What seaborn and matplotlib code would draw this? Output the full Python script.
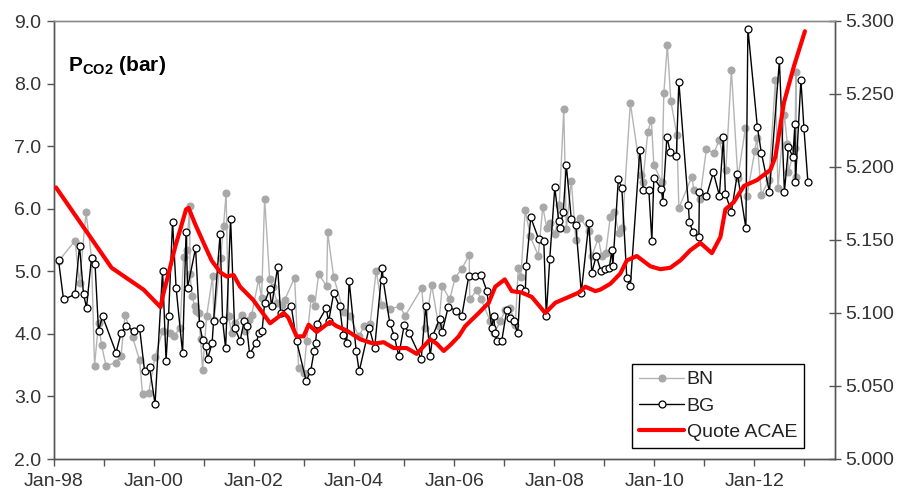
import numpy as np
import pandas as pd
import matplotlib
matplotlib.use("Agg")
import matplotlib.pyplot as plt
import matplotlib.dates as mdates
from matplotlib.ticker import FuncFormatter, FormatStrFormatter
import seaborn as sns

# ---------------- data ----------------
bn_years = [1998.09, 1998.42, 1998.51, 1998.64, 1998.75, 1998.81, 1998.89, 1998.95, 1999.04, 1999.24,
            1999.34, 1999.42, 1999.57, 1999.71, 1999.77, 1999.89, 2000.02, 2000.17, 2000.32, 2000.39,
            2000.52, 2000.59, 2000.65, 2000.71, 2000.72, 2000.76, 2000.81, 2000.84, 2000.89, 2000.93,
            2000.97, 2001.05, 2001.17, 2001.20, 2001.33, 2001.39, 2001.44, 2001.49, 2001.55, 2001.62,
            2001.75, 2001.82, 2001.89, 2001.95, 2002.09, 2002.15, 2002.21, 2002.31, 2002.37, 2002.46,
            2002.55, 2002.61, 2002.81, 2002.89, 2002.99, 2003.05, 2003.14, 2003.21, 2003.29, 2003.45,
            2003.47, 2003.59, 2003.79, 2003.91, 2004.09, 2004.20, 2004.32, 2004.44, 2004.55, 2004.72,
            2004.91, 2005.02, 2005.35, 2005.42, 2005.55, 2005.69, 2005.76, 2005.91, 2006.02, 2006.15,
            2006.30, 2006.31, 2006.45, 2006.54, 2006.72, 2006.80, 2006.92, 2007.02, 2007.12, 2007.22,
            2007.28, 2007.33, 2007.42, 2007.52, 2007.68, 2007.77, 2007.85, 2007.91, 2008.02, 2008.10,
            2008.19, 2008.24, 2008.34, 2008.43, 2008.52, 2008.69, 2008.75, 2008.88, 2008.95, 2009.03,
            2009.12, 2009.20, 2009.29, 2009.36, 2009.52, 2009.73, 2009.77, 2009.87, 2009.94, 2009.99,
            2010.15, 2010.19, 2010.26, 2010.33, 2010.45, 2010.49, 2010.75, 2010.79, 2010.91, 2011.04,
            2011.19, 2011.30, 2011.43, 2011.54, 2011.67, 2011.82, 2011.85, 2012.01, 2012.05, 2012.14,
            2012.29, 2012.42, 2012.47, 2012.60, 2012.66, 2012.68, 2012.81, 2012.83, 2012.84]
bn_values = [5.16, 5.49, 4.81, 5.94, 5.22, 3.49, 4.17, 3.82, 3.49, 3.54,
             3.65, 4.30, 3.95, 3.58, 3.04, 3.05, 3.63, 4.05, 4.01, 3.96,
             4.09, 5.23, 5.34, 6.04, 4.95, 4.60, 4.45, 4.36, 4.33, 3.92,
             3.42, 4.28, 4.92, 4.22, 5.22, 5.73, 6.25, 4.28, 4.01, 4.17,
             4.30, 4.04, 4.22, 4.30, 4.87, 4.57, 6.16, 4.88, 4.75, 4.50,
             4.46, 4.54, 4.90, 3.45, 3.37, 3.88, 4.58, 4.44, 4.96, 4.76,
             5.62, 4.91, 4.35, 4.29, 3.96, 4.12, 4.16, 5.01, 4.46, 4.40,
             4.44, 4.29, 4.73, 4.10, 4.78, 4.12, 4.77, 4.55, 4.90, 5.04,
             5.26, 4.55, 4.70, 4.55, 4.20, 4.01, 4.20, 4.38, 4.41, 4.14,
             5.05, 4.91, 5.98, 5.56, 5.25, 6.03, 5.69, 5.77, 5.59, 6.06,
             7.59, 5.67, 6.45, 5.50, 5.85, 5.65, 5.24, 5.53, 5.24, 5.30,
             5.87, 5.95, 5.61, 5.69, 7.69, 6.54, 6.43, 7.23, 7.42, 6.70,
             6.43, 7.85, 8.62, 7.72, 7.18, 6.01, 6.51, 6.30, 6.16, 6.95,
             6.89, 7.10, 6.62, 8.22, 6.49, 7.29, 6.20, 6.93, 7.13, 6.22,
             6.46, 8.05, 6.33, 7.50, 7.03, 6.59, 6.97, 8.18, 6.50]

bg_years = [1998.09, 1998.19, 1998.42, 1998.51, 1998.59, 1998.65, 1998.75, 1998.82, 1998.89, 1998.97,
            1999.24, 1999.34, 1999.44, 1999.59, 1999.71, 1999.81, 1999.91, 2000.02, 2000.17, 2000.24,
            2000.29, 2000.37, 2000.44, 2000.57, 2000.64, 2000.67, 2000.83, 2000.91, 2000.97, 2001.03,
            2001.07, 2001.16, 2001.19, 2001.32, 2001.37, 2001.43, 2001.53, 2001.61, 2001.72, 2001.80,
            2001.85, 2001.91, 2002.04, 2002.10, 2002.16, 2002.21, 2002.31, 2002.35, 2002.47, 2002.53,
            2002.74, 2002.85, 2003.04, 2003.13, 2003.20, 2003.23, 2003.26, 2003.44, 2003.49, 2003.59,
            2003.71, 2003.78, 2003.85, 2003.90, 2004.04, 2004.10, 2004.30, 2004.41, 2004.56, 2004.58,
            2004.71, 2004.80, 2004.89, 2005.00, 2005.10, 2005.34, 2005.43, 2005.52, 2005.57, 2005.71,
            2005.76, 2005.88, 2006.04, 2006.15, 2006.29, 2006.42, 2006.54, 2006.65, 2006.75, 2006.79,
            2006.82, 2006.85, 2006.95, 2007.05, 2007.12, 2007.19, 2007.27, 2007.32, 2007.42, 2007.44,
            2007.53, 2007.69, 2007.79, 2007.84, 2007.91, 2008.01, 2008.09, 2008.11, 2008.18, 2008.24,
            2008.34, 2008.43, 2008.54, 2008.69, 2008.75, 2008.84, 2008.93, 2009.01, 2009.10, 2009.15,
            2009.17, 2009.28, 2009.35, 2009.45, 2009.52, 2009.71, 2009.78, 2009.89, 2009.95, 2009.99,
            2010.14, 2010.17, 2010.25, 2010.32, 2010.44, 2010.49, 2010.68, 2010.70, 2010.77, 2010.89,
            2010.90, 2011.04, 2011.18, 2011.30, 2011.38, 2011.42, 2011.54, 2011.66, 2011.83, 2011.87,
            2012.06, 2012.14, 2012.30, 2012.50, 2012.60, 2012.68, 2012.77, 2012.81, 2012.82, 2012.93,
            2012.99, 2013.07]
bg_values = [5.18, 4.55, 4.63, 5.41, 4.63, 4.42, 5.22, 5.12, 4.05, 4.28,
             3.70, 4.01, 4.13, 4.05, 4.10, 3.41, 3.47, 2.88, 5.01, 3.57,
             4.28, 5.79, 4.74, 3.69, 5.63, 4.74, 5.37, 4.16, 3.90, 3.81,
             3.60, 3.85, 4.21, 5.60, 4.22, 3.77, 5.84, 4.10, 3.89, 4.20,
             4.12, 3.68, 3.85, 4.02, 4.05, 4.50, 4.71, 4.44, 5.07, 4.33,
             4.45, 3.88, 3.25, 3.40, 3.73, 3.86, 4.16, 4.41, 4.20, 4.65,
             4.44, 3.98, 3.86, 4.85, 3.73, 3.40, 4.10, 3.78, 5.05, 4.86,
             4.18, 3.97, 3.65, 4.14, 4.01, 3.60, 4.44, 3.65, 3.97, 4.24,
             4.03, 4.43, 4.37, 4.28, 4.92, 4.92, 4.94, 4.69, 4.10, 4.28,
             4.01, 3.89, 3.89, 4.38, 4.25, 4.20, 4.01, 4.73, 4.68, 5.09,
             5.86, 5.51, 5.49, 4.29, 5.20, 6.34, 5.80, 5.69, 5.95, 6.70,
             5.84, 5.74, 4.66, 5.77, 4.98, 5.25, 5.01, 5.04, 5.05, 5.34,
             5.08, 6.47, 6.33, 4.89, 4.76, 6.94, 6.30, 6.30, 5.49, 6.49,
             6.32, 6.10, 7.14, 6.91, 6.84, 8.03, 6.06, 5.79, 5.63, 5.55,
             6.27, 6.20, 6.58, 6.21, 7.14, 6.24, 5.95, 6.56, 5.69, 8.88,
             7.30, 6.89, 6.27, 8.37, 6.27, 6.98, 6.83, 7.35, 6.42, 8.06,
             7.29, 6.42]

acae_years = [1998.04, 1999.15, 1999.79, 2000.13, 2000.17, 2000.29, 2000.42, 2000.64, 2000.69, 2000.82,
              2000.99, 2001.15, 2001.32, 2001.45, 2001.59, 2001.72, 2001.98, 2002.32, 2002.59, 2002.68,
              2002.85, 2002.99, 2003.09, 2003.25, 2003.52, 2003.65, 2003.85, 2004.12, 2004.39, 2004.59,
              2004.79, 2005.05, 2005.25, 2005.52, 2005.65, 2005.79, 2005.92, 2006.09, 2006.22, 2006.49,
              2006.69, 2006.82, 2007.01, 2007.15, 2007.35, 2007.55, 2007.82, 2008.02, 2008.29, 2008.49,
              2008.62, 2008.82, 2008.92, 2009.12, 2009.32, 2009.45, 2009.65, 2009.92, 2010.12, 2010.32,
              2010.52, 2010.72, 2010.92, 2011.15, 2011.32, 2011.42, 2011.59, 2011.79, 2012.05, 2012.32,
              2012.42, 2012.59, 2012.79, 2013.01]
acae_values = [5.186, 5.131, 5.116, 5.104, 5.111, 5.127, 5.145, 5.171, 5.172, 5.161,
               5.148, 5.136, 5.128, 5.125, 5.126, 5.118, 5.109, 5.093, 5.100, 5.097,
               5.084, 5.084, 5.092, 5.087, 5.094, 5.091, 5.088, 5.082, 5.079, 5.080,
               5.076, 5.076, 5.072, 5.082, 5.079, 5.074, 5.078, 5.084, 5.091, 5.100,
               5.107, 5.118, 5.123, 5.115, 5.114, 5.111, 5.100, 5.107, 5.111, 5.114,
               5.118, 5.115, 5.116, 5.120, 5.127, 5.136, 5.139, 5.132, 5.130, 5.131,
               5.136, 5.143, 5.148, 5.141, 5.152, 5.171, 5.176, 5.187, 5.191, 5.198,
               5.207, 5.244, 5.269, 5.293]

left_ticks = [2.0, 3.0, 4.0, 5.0, 6.0, 7.0, 8.0, 9.0]
right_ticks = [5.000, 5.050, 5.100, 5.150, 5.200, 5.250, 5.300]
series_names = ["BN", "BG", "Quote ACAE"]


def to_dates(years):
    base = pd.Timestamp("1998-01-01")
    return [base + pd.Timedelta(days=(y - 1998) * 365.25) for y in years]


# ---------------- style ----------------
sns.set_style("white")
plt.rcParams["font.family"] = ["Liberation Sans", "DejaVu Sans"]
plt.rcParams["mathtext.fontset"] = "custom"
plt.rcParams["mathtext.rm"] = "Liberation Sans"
plt.rcParams["mathtext.bf"] = "Liberation Sans:bold"

fig = plt.figure(figsize=(8.99, 4.97), dpi=100)
ax = fig.add_axes([54 / 899, 1 - 459 / 497, 781 / 899, 438 / 497])
ax2 = ax.twinx()

df_bn = pd.DataFrame({"date": to_dates(bn_years), "value": bn_values})
df_bg = pd.DataFrame({"date": to_dates(bg_years), "value": bg_values})
df_ac = pd.DataFrame({"date": to_dates(acae_years), "value": acae_values})

sns.lineplot(data=df_bn, x="date", y="value", ax=ax, estimator=None, sort=False,
             color="#b4b4b4", linewidth=1.0, marker="o", markersize=5,
             markerfacecolor="#a8a8a8", markeredgecolor="#a8a8a8",
             markeredgewidth=0.8, zorder=2)
sns.lineplot(data=df_bg, x="date", y="value", ax=ax, estimator=None, sort=False,
             color="black", linewidth=1.0, marker="o", markersize=5,
             markerfacecolor="white", markeredgecolor="black",
             markeredgewidth=0.9, zorder=3)
sns.lineplot(data=df_ac, x="date", y="value", ax=ax2, estimator=None, sort=False,
             color="#ff0000", linewidth=3.0, zorder=4)

# ---------------- axes ----------------
ax.set_xlim(pd.Timestamp("1998-01-01"), pd.Timestamp("2013-08-12"))
ax.set_ylim(2.0, 9.0)
ax2.set_ylim(5.0, 5.3)

ax.set_yticks(left_ticks)
ax.yaxis.set_major_formatter(FormatStrFormatter("%.1f"))
ax2.set_yticks(right_ticks)
ax2.yaxis.set_major_formatter(FormatStrFormatter("%.3f"))

ax.xaxis.set_major_locator(mdates.YearLocator(1))


def fmt_date(x, pos):
    d = mdates.num2date(x)
    if d.year % 2 == 0:
        return "Jan-%02d" % (d.year % 100)
    return ""


ax.xaxis.set_major_formatter(FuncFormatter(fmt_date))

for a in (ax, ax2):
    a.set_xlabel("")
    a.set_ylabel("")
    a.grid(False)
    for s in a.spines.values():
        s.set_visible(True)
        s.set_color("#555555")
        s.set_linewidth(1.0)

ax.spines["top"].set_color("#8a8a8a")
ax2.spines["top"].set_color("#8a8a8a")

ax.tick_params(axis="y", direction="out", length=5, width=1, color="#555555",
               labelsize=14, labelcolor="#333333", pad=4, left=True)
ax.tick_params(axis="x", direction="out", length=5, width=1, color="#555555",
               labelsize=14, labelcolor="#333333", pad=5, bottom=True)
ax2.tick_params(axis="y", direction="inout", length=9, width=1, color="#555555",
                labelsize=14, labelcolor="#333333", pad=3, right=True)

ax.text(14 / 781, (459 - 71) / 438, r"$\mathbf{P}_{\mathbf{CO2}}$ (bar)",
        transform=ax.transAxes, fontsize=15, fontweight="bold", color="black",
        ha="left", va="baseline")

handles = [ax.lines[0], ax.lines[1], ax2.lines[0]]
leg = ax2.legend(handles, series_names, loc="lower right",
                 bbox_to_anchor=((804 - 54) / 781, (459 - 448) / 438),
                 borderaxespad=0, frameon=True, fancybox=False, shadow=False,
                 edgecolor="black", framealpha=1, fontsize=14,
                 handlelength=2.3, handletextpad=0.15, labelspacing=0.45,
                 borderpad=0.35)
leg.get_frame().set_linewidth(1.0)
for t in leg.get_texts():
    t.set_color("#222222")

fig.savefig("out.png", dpi=100)
